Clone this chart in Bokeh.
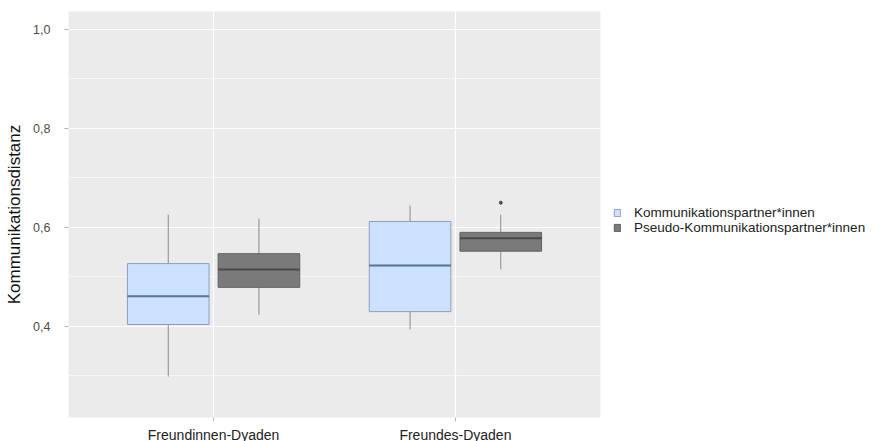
from bokeh.plotting import figure
from bokeh.models import (FactorRange, Range1d, FixedTicker, Legend, LegendItem,
                          ColumnDataSource)
from bokeh.transform import dodge
from bokeh.embed import file_html
from bokeh.resources import INLINE

categories = ["Freundinnen-Dyaden", "Freundes-Dyaden"]
groups = ["Kommunikationspartner*innen", "Pseudo-Kommunikationspartner*innen"]

kp_lower = [0.299, 0.394]
kp_q1 = [0.404, 0.430]
kp_median = [0.461, 0.523]
kp_q3 = [0.527, 0.612]
kp_upper = [0.626, 0.644]

pk_lower = [0.424, 0.515]
pk_q1 = [0.479, 0.552]
pk_median = [0.515, 0.578]
pk_q3 = [0.547, 0.590]
pk_upper = [0.618, 0.626]

pk_outlier_cat = ["Freundes-Dyaden"]
pk_outlier_val = [0.650]

y_ticks = [0.4, 0.6, 0.8, 1.0]
y_tick_labels = ["0,4", "0,6", "0,8", "1,0"]
y_minor = [0.3, 0.5, 0.7, 0.9]

FONT = "Liberation Sans"

p = figure(frame_width=532, frame_height=406,
           x_range=FactorRange(*categories, range_padding=0.1),
           y_range=Range1d(0.2162, 1.036),
           output_backend="svg", toolbar_location=None,
           min_border=0, min_border_left=68, min_border_top=11,
           min_border_bottom=23, min_border_right=0)

p.background_fill_color = "#ebebeb"
p.border_fill_color = "white"
p.outline_line_color = None

# grid
p.ygrid.ticker = FixedTicker(ticks=y_ticks, minor_ticks=y_minor)
p.ygrid.grid_line_color = "white"
p.ygrid.grid_line_width = 1.2
p.ygrid.minor_grid_line_color = "white"
p.ygrid.minor_grid_line_width = 0.6
p.xgrid.grid_line_color = "white"
p.xgrid.grid_line_width = 1.2

# axes
p.yaxis.ticker = FixedTicker(ticks=y_ticks)
p.yaxis.major_label_overrides = {t: l for t, l in zip(y_ticks, y_tick_labels)}
p.yaxis.minor_tick_line_color = None
for ax in (p.xaxis[0], p.yaxis[0]):
    ax.axis_line_color = None
    ax.major_tick_line_color = "#b5b5b5"
    ax.major_tick_out = 4
    ax.major_tick_in = 0
    ax.major_label_text_font = FONT
p.yaxis.major_label_text_font_size = "12.5px"
p.yaxis.major_label_text_color = "#4d4d4d"
p.yaxis.major_label_standoff = 14
p.xaxis.major_label_text_font_size = "14px"
p.xaxis.major_label_text_color = "#222222"
p.xaxis.major_label_standoff = 5
p.yaxis.axis_label = "Kommunikationsdistanz"
p.yaxis.axis_label_text_font = FONT
p.yaxis.axis_label_text_font_size = "17px"
p.yaxis.axis_label_text_font_style = "normal"
p.yaxis.axis_label_text_color = "#111111"
p.yaxis.axis_label_standoff = 6

OFF = 0.1875
W = 0.3375

series = [
    (groups[0], -OFF, kp_lower, kp_q1, kp_median, kp_q3, kp_upper,
     "#cce1fd", "#8d9fb9", "#5b7191"),
    (groups[1], OFF, pk_lower, pk_q1, pk_median, pk_q3, pk_upper,
     "#7a7a7a", "#616161", "#4a4a4a"),
]

items = []
for name, off, lo, q1, med, q3, up, fill, edge, medc in series:
    src = ColumnDataSource(dict(cat=categories, lower=lo, q1=q1, median=med,
                                q3=q3, upper=up))
    xc = dodge("cat", off, range=p.x_range)
    p.segment(x0=xc, y0="q3", x1=xc, y1="upper", source=src,
              line_color="#8a8a8a", line_width=1)
    p.segment(x0=xc, y0="lower", x1=xc, y1="q1", source=src,
              line_color="#8a8a8a", line_width=1)
    box = p.vbar(x=xc, width=W, top="q3", bottom="q1", source=src,
                 fill_color=fill, line_color=edge, line_width=1)
    p.segment(x0=dodge("cat", off - W / 2, range=p.x_range), y0="median",
              x1=dodge("cat", off + W / 2, range=p.x_range), y1="median",
              source=src, line_color=medc, line_width=2)
    items.append(LegendItem(label=name, renderers=[box]))

osrc = ColumnDataSource(dict(cat=pk_outlier_cat, val=pk_outlier_val))
p.scatter(x=dodge("cat", OFF, range=p.x_range), y="val", source=osrc,
          size=3, color="#4a4a4a")

legend = Legend(items=items, location=(13, 182))
legend.background_fill_alpha = 0
legend.border_line_color = None
legend.margin = 0
legend.padding = 6
legend.glyph_width = 8
legend.glyph_height = 9
legend.label_standoff = 13
legend.label_text_font = FONT
legend.label_text_font_size = "13.5px"
legend.label_text_color = "#222222"
legend.label_height = 11
legend.spacing = -3
legend.label_text_line_height = 0.8
p.add_layout(legend, "right")

open("out.html", "w").write(file_html(p, INLINE))
